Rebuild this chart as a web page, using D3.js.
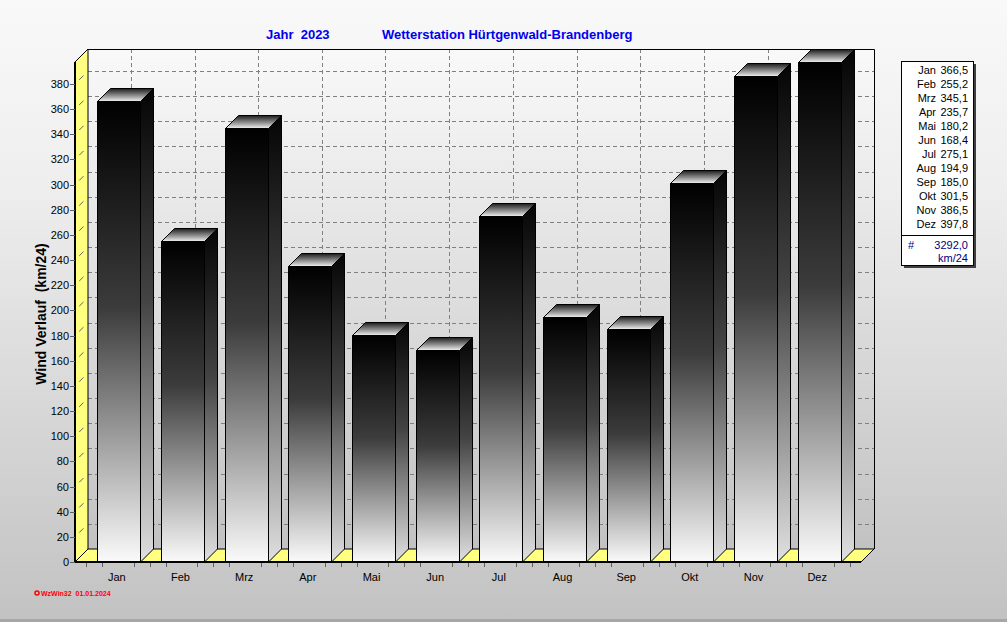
<!DOCTYPE html>
<html><head><meta charset="utf-8">
<script src="https://cdn.jsdelivr.net/npm/d3@7"></script>
<style>body{margin:0;padding:0;overflow:hidden}svg{display:block}text{font-family:Arial,"Liberation Sans",sans-serif}</style>
</head><body>
<svg id="chart" width="1007" height="622"></svg>
<script>
const months = ["Jan","Feb","Mrz","Apr","Mai","Jun","Jul","Aug","Sep","Okt","Nov","Dez"];
const values = [366.5,255.2,345.1,235.7,180.2,168.4,275.1,194.9,185.0,301.5,386.5,397.8];
const yTickValues = [0,20,40,60,80,100,120,140,160,180,200,220,240,260,280,300,320,340,360,380];
const totalValue = 3292.0;
const totalUnit = "km/24";
const titleYear = "Jahr  2023";
const titleStation = "Wetterstation Hürtgenwald-Brandenberg";
const yAxisTitle = "Wind Verlauf  (km/24)";
const footerText = "WzWin32  01.01.2024";

(function () {
const svg = d3.select("#chart");
const W = 1007, H = 622;
const D = 13; // 3D depth
const pL = 75, pR = 861, pT = 62, pB = 562;

const y = d3.scaleLinear().domain([0, 397.5]).range([pB, pT]);
const x = d3.scaleBand().domain(months).range([86, 850]).padding(0);
const step = x.step();
const barW = 43;
const fmt = v => d3.format(".1f")(v).replace(".", ",");

const defs = svg.append("defs");
function lin(id, stops, x1, y1, x2, y2) {
  const g = defs.append("linearGradient").attr("id", id)
    .attr("x1", x1).attr("y1", y1).attr("x2", x2).attr("y2", y2);
  stops.forEach(s => g.append("stop").attr("offset", s[0]).attr("stop-color", s[1]));
}
lin("bg", [[0,"#f9f9f9"],[0.3,"#eeeeee"],[1,"#c2c2c2"]], 0,0,0,1);
lin("wall", [[0,"#f9f9f9"],[1,"#c2c2c2"]], 0,0,0,1);
lin("front", [[0,"#000000"],[0.45,"#3c3c3c"],[1,"#fafafa"]], 0,0,0,1);
lin("side", [[0,"#050505"],[0.45,"#444444"],[1,"#e0e0e0"]], 0,0,0,1);
lin("topf", [[0,"#1c1c1c"],[0.6,"#9a9a9a"],[1,"#f2f2f2"]], 0,0,0,1);

svg.append("rect").attr("width", W).attr("height", H).attr("fill", "url(#bg)");
svg.append("rect").attr("x", 0).attr("y", 619).attr("width", W).attr("height", 3).attr("fill", "#a6a6a6");

// back wall
svg.append("rect").attr("x", pL + D).attr("y", pT - D)
  .attr("width", pR - pL).attr("height", pB - pT)
  .attr("fill", "url(#wall)");

svg.append("g").selectAll("line").data(yTickValues.filter(v => v > 0)).join("line")
  .attr("x1", pL + D).attr("x2", pR + D)
  .attr("y1", d => Math.round(y(d)) - D + 0.5).attr("y2", d => Math.round(y(d)) - D + 0.5)
  .attr("stroke", "#808080").attr("stroke-dasharray", "4,3");
svg.append("g").selectAll("line").data(months).join("line")
  .attr("x1", d => Math.round(x(d) + step / 2 + D) + 0.5)
  .attr("x2", d => Math.round(x(d) + step / 2 + D) + 0.5)
  .attr("y1", pT - D).attr("y2", pB - D)
  .attr("stroke", "#808080").attr("stroke-dasharray", "4,3");

svg.append("path")
  .attr("d", `M${pL + D},${pT - D + 0.5}H${pR + D + 0.5}V${pB - D}`)
  .attr("fill", "none").attr("stroke", "#000");

// left yellow wall
svg.append("path")
  .attr("d", `M${pL},${pB}L${pL + D},${pB - D}L${pL + D},${pT - D}L${pL},${pT}Z`)
  .attr("fill", "#ffff80").attr("stroke", "#000");
svg.append("g").selectAll("line").data(yTickValues.filter(v => v > 0)).join("line")
  .attr("x1", pL).attr("y1", d => y(d)).attr("x2", pL + D).attr("y2", d => y(d) - D)
  .attr("stroke", "#606060").attr("stroke-dasharray", "0,6,6,20");

// floor
svg.append("path")
  .attr("d", `M${pL},${pB}L${pR},${pB}L${pR + D},${pB - D}L${pL + D},${pB - D}Z`)
  .attr("fill", "#ffff80").attr("stroke", "#000");

// bars
const bars = svg.append("g").selectAll("g").data(months).join("g");
bars.each(function(m, i) {
  const g = d3.select(this);
  const x0 = Math.round(x(m) + (step - barW) / 2 + 1) + 0.5;
  const x1 = x0 + barW;
  const yt = Math.round(y(values[i])) + 0.5;
  const yb = pB;
  g.append("path")
    .attr("d", `M${x1},${yb}L${x1 + D},${yb - D}L${x1 + D},${yt - D}L${x1},${yt}Z`)
    .attr("fill", "url(#side)").attr("stroke", "#000");
  g.append("rect").attr("x", x0).attr("y", yt).attr("width", barW).attr("height", yb - yt)
    .attr("fill", "url(#front)").attr("stroke", "#000");
  g.append("path")
    .attr("d", `M${x0},${yt}L${x1},${yt}L${x1 + D},${yt - D}L${x0 + D},${yt - D}Z`)
    .attr("fill", "url(#topf)").attr("stroke", "#000");
});

// front axes
svg.append("line").attr("x1", pL).attr("x2", pL).attr("y1", pT).attr("y2", pB + 1)
  .attr("stroke", "#000").attr("stroke-width", 2);
svg.append("line").attr("x1", pL).attr("x2", pR).attr("y1", pB).attr("y2", pB)
  .attr("stroke", "#000").attr("stroke-width", 2);

const yAxis = svg.append("g");
yAxis.selectAll("line").data(yTickValues).join("line")
  .attr("x1", pL - 5).attr("x2", pL).attr("y1", d => Math.round(y(d)) + 0.5).attr("y2", d => Math.round(y(d)) + 0.5)
  .attr("stroke", "#606060");
yAxis.selectAll("text").data(yTickValues).join("text")
  .attr("x", 69).attr("y", d => y(d) + 4).attr("text-anchor", "end")
  .attr("font-size", 11).attr("fill", "#000").text(d => d);

const xt = [];
months.forEach(m => { for (let k = 0; k < 4; k++) if (k !== 2) xt.push(x(m) + k * step / 4); });
xt.push(850);
svg.append("g").selectAll("line").data(xt).join("line")
  .attr("x1", d => Math.round(d) + 0.5).attr("x2", d => Math.round(d) + 0.5)
  .attr("y1", pB + 1).attr("y2", pB + 5).attr("stroke", "#606060");
svg.append("g").selectAll("text").data(months).join("text")
  .attr("x", d => x(d) + step / 2 - 1).attr("y", 581).attr("text-anchor", "middle")
  .attr("font-size", 11).attr("fill", "#000").text(d => d);

svg.append("text").attr("x", 266).attr("y", 39).attr("font-size", 13).attr("font-weight", "bold")
  .attr("fill", "#0000ee").style("white-space", "pre").text(titleYear);
svg.append("text").attr("x", 382).attr("y", 39).attr("font-size", 13).attr("font-weight", "bold")
  .attr("fill", "#0000ee").text(titleStation);
svg.append("text").attr("transform", "translate(46,314) rotate(-90)").attr("text-anchor", "middle")
  .attr("font-size", 14).attr("font-weight", "bold").attr("fill", "#000")
  .style("white-space", "pre").text(yAxisTitle);

const lg = svg.append("g");
lg.append("rect").attr("x", 904).attr("y", 64).attr("width", 72).attr("height", 204).attr("fill", "#404040");
lg.append("rect").attr("x", 901.5).attr("y", 61.5).attr("width", 72).attr("height", 204)
  .attr("fill", "#ffffff").attr("stroke", "#000");
lg.append("line").attr("x1", 901.5).attr("x2", 973.5).attr("y1", 235.5).attr("y2", 235.5).attr("stroke", "#000");
lg.selectAll("text.m").data(months).join("text").attr("class", "m")
  .attr("x", 936).attr("y", (d, i) => 74 + i * 14).attr("text-anchor", "end")
  .attr("font-size", 11).attr("fill", "#000").text(d => d);
lg.selectAll("text.v").data(values).join("text").attr("class", "v")
  .attr("x", 968).attr("y", (d, i) => 74 + i * 14).attr("text-anchor", "end")
  .attr("font-size", 11).attr("fill", "#000").text(d => fmt(d));
lg.append("text").attr("x", 908).attr("y", 249).attr("font-size", 11).attr("fill", "#000080").text("#");
lg.append("text").attr("x", 968).attr("y", 249).attr("text-anchor", "end").attr("font-size", 11)
  .attr("fill", "#000080").text(fmt(totalValue));
lg.append("text").attr("x", 968).attr("y", 262).attr("text-anchor", "end").attr("font-size", 11)
  .attr("fill", "#000080").text(totalUnit);

svg.append("circle").attr("cx", 37).attr("cy", 593).attr("r", 2).attr("fill", "none")
  .attr("stroke", "#ff0000").attr("stroke-width", 1.5);
svg.append("text").attr("x", 41).attr("y", 596).attr("font-size", 7).attr("font-weight", "bold")
  .attr("fill", "#ff0000").style("white-space", "pre").text(footerText);
})();
</script>
</body></html>
